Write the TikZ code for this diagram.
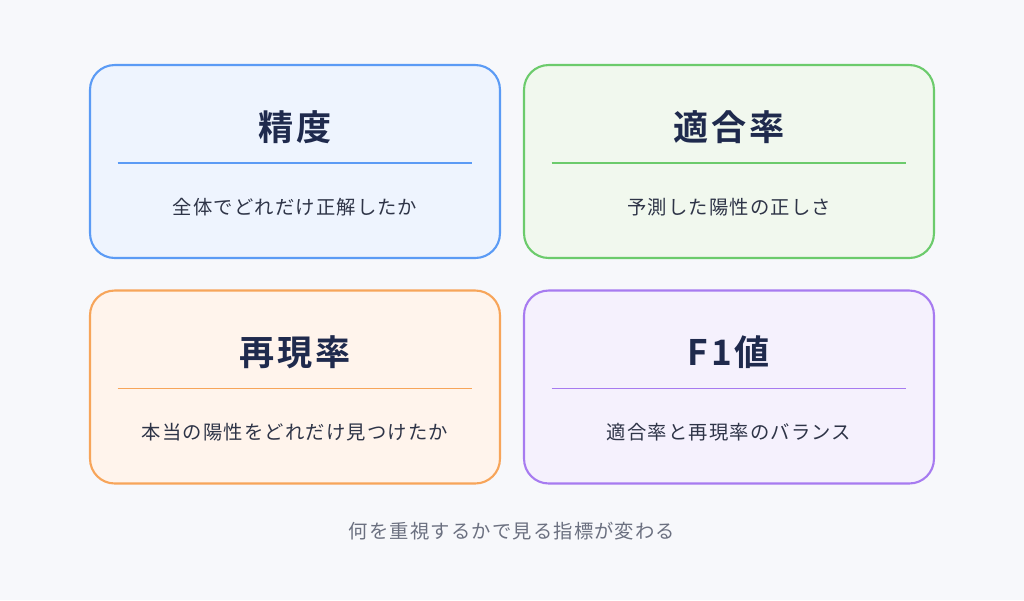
\documentclass[tikz,border=0pt]{standalone}
\usepackage{fontspec}
\setmainfont{Noto Sans CJK JP}
\newfontfamily\jpbold[LetterSpace=8]{Noto Sans CJK JP Bold}
\newfontfamily\jpspaced[LetterSpace=6]{Noto Sans CJK JP}
\usetikzlibrary{positioning}
\definecolor{bgcol}{HTML}{F7F8FB}
\definecolor{navy}{HTML}{1F2A4D}
\definecolor{bodytxt}{HTML}{2E3447}
\definecolor{greytxt}{HTML}{6B7080}
\definecolor{blueline}{HTML}{5B9BF5}\definecolor{bluefill}{HTML}{EEF4FE}
\definecolor{greenline}{HTML}{6CCB6C}\definecolor{greenfill}{HTML}{F1F8EE}
\definecolor{orangeline}{HTML}{F7A55A}\definecolor{orangefill}{HTML}{FFF4EC}
\definecolor{purpleline}{HTML}{A77BF0}\definecolor{purplefill}{HTML}{F5F1FD}
\tikzset{
  card/.style={draw=#1line, fill=#1fill, line width=1.2pt, rounded corners=14pt,
    minimum width=8.2cm, minimum height=3.86cm, inner sep=0pt},
  cardtitle/.style={font=\jpbold\fontsize{20}{22}\selectfont, text=navy},
  cardtext/.style={font=\jpspaced\fontsize{11}{13}\selectfont, text=bodytxt},
}
\begin{document}
\begin{tikzpicture}[x=0.02cm, y=-0.02cm]
  \fill[bgcol] (0,0) rectangle (1024,600);
  \useasboundingbox (0,0) rectangle (1024,600);

  % cards
  \node[card=blue] (acc) at (295,161.5) {};
  \node[card=green] (prec) at (729,161.5) {};
  \node[card=orange] (rec) at (295,387) {};
  \node[card=purple] (fone) at (729,387) {};

  % titles, rules and texts
  \foreach \c/\col/\t/\s in {acc/blueline/精度/全体でどれだけ正解したか,
      prec/greenline/適合率/予測した陽性の正しさ,
      rec/orangeline/再現率/本当の陽性をどれだけ見つけたか,
      fone/purpleline/F1値/適合率と再現率のバランス} {
    \node[cardtitle] (\c-title) at ([yshift=0.69cm]\c.center) {\t};
    \draw[draw=\col, line width=0.9pt] ([xshift=-3.55cm,yshift=-0.03cm]\c.center)
      coordinate (\c-l) -- ([xshift=3.55cm,yshift=-0.03cm]\c.center) coordinate (\c-r);
    \node[cardtext] (\c-text) at ([yshift=-0.91cm]\c.center) {\s};
  }

  % footer
  \node[font=\jpspaced\fontsize{11}{13}\selectfont, text=greytxt] (note) at (512,531)
    {何を重視するかで見る指標が変わる};
\end{tikzpicture}
\end{document}
